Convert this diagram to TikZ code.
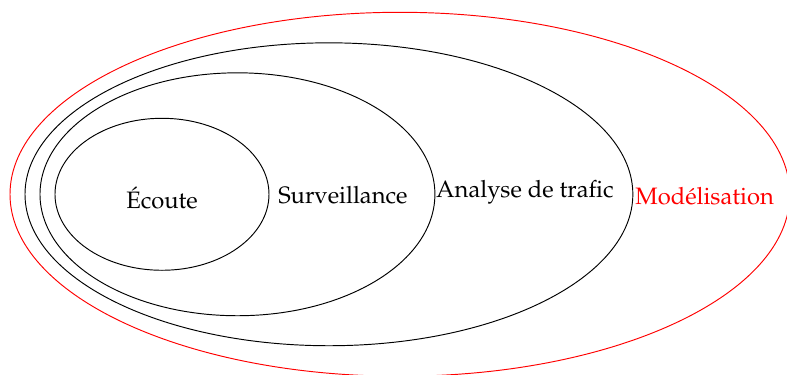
\documentclass[tikz,border=0pt]{standalone}
\usepackage[T1]{fontenc}
\usepackage{mathpazo}
\usepackage{tikz}

\begin{document}
\begin{tikzpicture}
    \clip (0,0) rectangle (11.65,5.54);
    \useasboundingbox (0,0) rectangle (11.65,5.54);
    \draw[red] (5.92,2.664) ellipse (5.772 and 2.694);
    \draw (4.869,2.664) ellipse (4.499 and 2.242);
    \draw (3.515,2.664) ellipse (2.923 and 1.798);
    \draw (2.398,2.664) ellipse (1.584 and 1.125);
    \node (ecoute) at (2.398,2.605){\'Ecoute};
    \node (surv) at (5.076,2.65){Surveillance};
    \node (trafic) at (7.77,2.69){Analyse de trafic};
    \node[red] (model) at (10.43,2.63){Mod\'elisation};
  \end{tikzpicture}
\end{document}
